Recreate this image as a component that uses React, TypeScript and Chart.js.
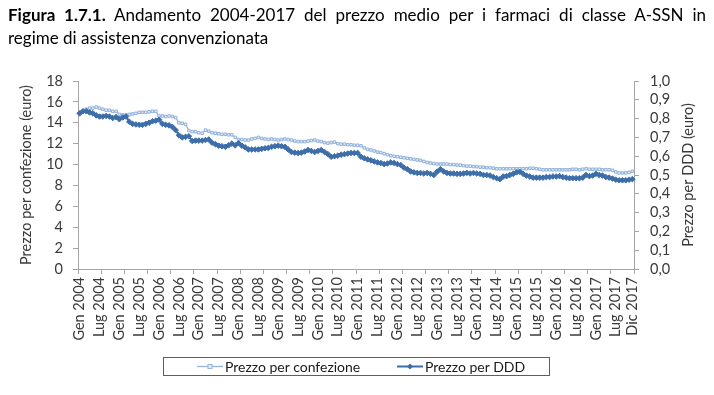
import React, { useEffect, useRef } from 'react';
import { Chart, registerables } from 'chart.js';

Chart.register(...registerables);

// ---- Data ----
const monthNames = ['Gen', 'Feb', 'Mar', 'Apr', 'Mag', 'Giu', 'Lug', 'Ago', 'Set', 'Ott', 'Nov', 'Dic'];
const years = [2004, 2005, 2006, 2007, 2008, 2009, 2010, 2011, 2012, 2013, 2014, 2015, 2016, 2017];
const categories: string[] = years.flatMap((y) => monthNames.map((m) => `${m} ${y}`));
const labelledMonths = ['Gen', 'Lug'];
const lastLabel = 'Dic 2017';

// Prezzo per confezione (euro) – left axis
const prezzoConfezione = [
  14.9, 15.1, 15.3, 15.4, 15.4, 15.5, 15.4, 15.3, 15.2, 15.2, 15.1, 15.1,
  14.8, 14.75, 14.75, 14.8, 14.85, 14.9, 15.0, 15.0, 15.0, 15.05, 15.1, 15.1,
  14.65, 14.65, 14.6, 14.65, 14.6, 14.5, 14.0, 13.95, 13.85, 13.25, 13.15, 13.15,
  13.05, 13.0, 13.3, 13.2, 13.05, 13.0, 12.95, 12.9, 12.9, 12.85, 12.85, 12.6,
  12.4, 12.4, 12.35, 12.35, 12.45, 12.5, 12.6, 12.5, 12.45, 12.4, 12.45, 12.4,
  12.35, 12.4, 12.45, 12.4, 12.35, 12.25, 12.2, 12.2, 12.2, 12.25, 12.3, 12.35,
  12.25, 12.2, 12.1, 12.05, 12.1, 12.15, 12.0, 11.95, 11.95, 11.9, 11.9, 11.85,
  11.85, 11.8, 11.6, 11.45, 11.4, 11.3, 11.2, 11.15, 11.05, 10.95, 10.85, 10.8,
  10.75, 10.7, 10.65, 10.6, 10.55, 10.5, 10.45, 10.4, 10.3, 10.2, 10.15, 10.1,
  10.05, 10.05, 10.05, 10.05, 10.0, 10.0, 9.95, 9.95, 9.9, 9.85, 9.85, 9.8,
  9.8, 9.75, 9.75, 9.7, 9.7, 9.65, 9.6, 9.6, 9.6, 9.6, 9.6, 9.6,
  9.6, 9.6, 9.6, 9.6, 9.65, 9.65, 9.6, 9.55, 9.5, 9.5, 9.5, 9.5,
  9.5, 9.5, 9.5, 9.5, 9.5, 9.55, 9.55, 9.5, 9.55, 9.6, 9.55, 9.55,
  9.55, 9.55, 9.5, 9.5, 9.5, 9.45, 9.3, 9.2, 9.2, 9.2, 9.25, 9.35,
];

// Prezzo per DDD (euro) – right axis
const prezzoDDD = [
  0.828, 0.839, 0.839, 0.833, 0.828, 0.817, 0.811, 0.811, 0.814, 0.811, 0.803, 0.808,
  0.797, 0.806, 0.811, 0.783, 0.772, 0.769, 0.767, 0.767, 0.772, 0.778, 0.786, 0.789,
  0.794, 0.772, 0.767, 0.764, 0.756, 0.739, 0.711, 0.700, 0.703, 0.706, 0.681, 0.683,
  0.683, 0.683, 0.686, 0.689, 0.672, 0.664, 0.656, 0.653, 0.650, 0.658, 0.667, 0.658,
  0.669, 0.656, 0.647, 0.636, 0.636, 0.636, 0.636, 0.639, 0.642, 0.644, 0.650, 0.653,
  0.656, 0.653, 0.650, 0.636, 0.622, 0.619, 0.617, 0.619, 0.625, 0.633, 0.628, 0.622,
  0.628, 0.633, 0.622, 0.611, 0.597, 0.600, 0.603, 0.608, 0.611, 0.614, 0.617, 0.617,
  0.617, 0.597, 0.589, 0.583, 0.578, 0.572, 0.567, 0.564, 0.558, 0.561, 0.567, 0.564,
  0.558, 0.553, 0.539, 0.531, 0.519, 0.514, 0.511, 0.511, 0.508, 0.511, 0.506, 0.500,
  0.517, 0.531, 0.519, 0.511, 0.508, 0.508, 0.506, 0.506, 0.508, 0.511, 0.508, 0.511,
  0.508, 0.506, 0.500, 0.500, 0.497, 0.489, 0.483, 0.478, 0.492, 0.494, 0.500, 0.506,
  0.514, 0.517, 0.506, 0.497, 0.492, 0.486, 0.486, 0.486, 0.486, 0.489, 0.489, 0.492,
  0.492, 0.494, 0.489, 0.486, 0.483, 0.483, 0.483, 0.483, 0.486, 0.500, 0.494, 0.497,
  0.506, 0.500, 0.497, 0.489, 0.486, 0.481, 0.475, 0.472, 0.472, 0.472, 0.475, 0.478,
];

const seriesNames = ['Prezzo per confezione', 'Prezzo per DDD'];
const axisTitles = ['Prezzo per confezione (euro)', 'Prezzo per DDD (euro)'];
const titleBold = 'Figura 1.7.1.';
const titleLine1 = ' Andamento 2004-2017 del prezzo medio per i farmaci di classe A-SSN in';
const titleLine2 = 'regime di assistenza convenzionata';

const LIGHT = '#94b3dc';
const LIGHT_FILL = '#e6eef8';
const DARK = '#3d6ea9';
const AXIS = '#a6a6a6';
const TEXT = '#3a3a3a';
const FONT = 'Lato, "Open Sans", sans-serif';
const TICK_FONT = { family: FONT, size: 14.5 };

// draws the right axis title reading bottom-to-top, like the left one
const rightTitlePlugin = {
  id: 'rightTitle',
  afterDraw(chart: any) {
    const s = chart.scales.y1;
    if (!s) return;
    const ctx = chart.ctx;
    ctx.save();
    ctx.translate(s.right - 26, (s.top + s.bottom) / 2);
    ctx.rotate(-Math.PI / 2);
    ctx.fillStyle = TEXT;
    ctx.font = `14.5px ${FONT}`;
    ctx.textAlign = 'center';
    ctx.textBaseline = 'middle';
    ctx.fillText(axisTitles[1], 0, 0);
    ctx.restore();
  },
};

export default function App() {
  const canvasRef = useRef<HTMLCanvasElement | null>(null);

  useEffect(() => {
    const canvas = canvasRef.current;
    if (!canvas) return;
    const chart = new Chart(canvas, {
      type: 'line',
      data: {
        labels: categories,
        datasets: [
          {
            label: seriesNames[1],
            data: prezzoDDD,
            yAxisID: 'y1',
            borderColor: DARK,
            backgroundColor: DARK,
            pointBorderColor: DARK,
            pointBackgroundColor: DARK,
            pointStyle: 'rectRot',
            pointRadius: 2.8,
            pointBorderWidth: 1,
            borderWidth: 2,
            tension: 0,
            order: 1,
          },
          {
            label: seriesNames[0],
            data: prezzoConfezione,
            yAxisID: 'y',
            borderColor: LIGHT,
            backgroundColor: LIGHT_FILL,
            pointBorderColor: LIGHT,
            pointBackgroundColor: LIGHT_FILL,
            pointStyle: 'rect',
            pointRadius: 1.8,
            pointBorderWidth: 1,
            borderWidth: 1.2,
            tension: 0,
            order: 2,
          },
        ],
      },
      options: {
        animation: false,
        responsive: false,
        maintainAspectRatio: false,
        layout: { padding: { top: 81, bottom: 55, left: 0, right: 0 } },
        plugins: {
          legend: { display: false },
          tooltip: { enabled: false },
          title: { display: false },
        },
        scales: {
          x: {
            type: 'category',
            offset: true,
            grid: {
              offset: true,
              drawOnChartArea: false,
              drawTicks: true,
              tickLength: 5,
              color: (ctx: any) =>
                ctx.index === undefined || ctx.index % 7 === 0 ? AXIS : 'rgba(0,0,0,0)',
            },
            border: { color: AXIS },
            ticks: {
              autoSkip: false,
              maxRotation: 90,
              minRotation: 90,
              padding: 3,
              color: TEXT,
              font: TICK_FONT,
              callback: (_v: any, index: number) => {
                const lab = categories[index];
                if (lab === lastLabel) return lab;
                return labelledMonths.includes(lab.split(' ')[0]) ? lab : '';
              },
            },
            afterFit: (s: any) => {
              s.height = 71;
            },
          },
          y: {
            position: 'left',
            min: 0,
            max: 18,
            grid: { drawOnChartArea: false, drawTicks: true, tickLength: 5, color: AXIS },
            border: { color: AXIS },
            ticks: { stepSize: 2, autoSkip: false, padding: 10, color: TEXT, font: TICK_FONT },
            title: {
              display: true,
              text: axisTitles[0],
              color: TEXT,
              font: TICK_FONT,
              padding: { top: 18, bottom: 0 },
            },
            afterFit: (s: any) => {
              s.width = 78;
            },
          },
          y1: {
            position: 'right',
            min: 0,
            max: 1,
            grid: { drawOnChartArea: false, drawTicks: true, tickLength: 5, color: AXIS },
            border: { color: AXIS },
            ticks: {
              stepSize: 0.1,
              autoSkip: false,
              padding: 11,
              color: TEXT,
              font: TICK_FONT,
              callback: (v: any) => Number(v).toFixed(1).replace('.', ','),
            },
            title: { display: false },
            afterFit: (s: any) => {
              s.width = 80;
            },
          },
        },
      },
      plugins: [rightTitlePlugin],
    } as any);
    return () => chart.destroy();
  }, []);

  const legendItem = (left: number, textLeft: number, name: string, dark: boolean) => (
    <>
      <svg style={{ position: 'absolute', left, top: 0 }} width={26} height={17}>
        <line x1={0} y1={8.5} x2={26} y2={8.5} stroke={dark ? DARK : LIGHT} strokeWidth={dark ? 2 : 1.3} />
        {dark ? (
          <polygon points="13,5.5 16,8.5 13,11.5 10,8.5" fill={DARK} />
        ) : (
          <rect x={11} y={6.5} width={4} height={4} fill={LIGHT_FILL} stroke={LIGHT} strokeWidth={1} />
        )}
      </svg>
      <span
        style={{
          position: 'absolute',
          left: textLeft,
          top: 0,
          lineHeight: '17px',
          fontFamily: FONT,
          fontSize: 14,
          color: '#1a1a1a',
          whiteSpace: 'nowrap',
        }}
      >
        {name}
      </span>
    </>
  );

  const titleStyle: React.CSSProperties = {
    fontFamily: FONT,
    fontSize: 17,
    lineHeight: '23px',
    color: '#000',
    whiteSpace: 'nowrap',
  };

  return (
    <div
      style={{
        position: 'fixed',
        left: 0,
        top: 0,
        width: 714,
        height: 395,
        background: '#fff',
        overflow: 'hidden',
      }}
    >
      <canvas
        ref={canvasRef}
        width={714}
        height={395}
        style={{ position: 'absolute', left: 0, top: 0, width: 714, height: 395 }}
      />
      <div style={{ position: 'absolute', left: 8, top: 3, width: 698 }}>
        <div style={{ ...titleStyle, whiteSpace: 'normal', textAlign: 'justify', textAlignLast: 'justify' }}>
          <b>{titleBold}</b>
          {titleLine1}
        </div>
        <div style={titleStyle}>{titleLine2}</div>
      </div>
      <div
        style={{
          position: 'absolute',
          left: 163,
          top: 357,
          width: 387,
          height: 19,
          boxSizing: 'border-box',
          border: '1px solid #4a6283',
        }}
      >
        {legendItem(33, 61, seriesNames[0], false)}
        {legendItem(233, 261, seriesNames[1], true)}
      </div>
    </div>
  );
}
